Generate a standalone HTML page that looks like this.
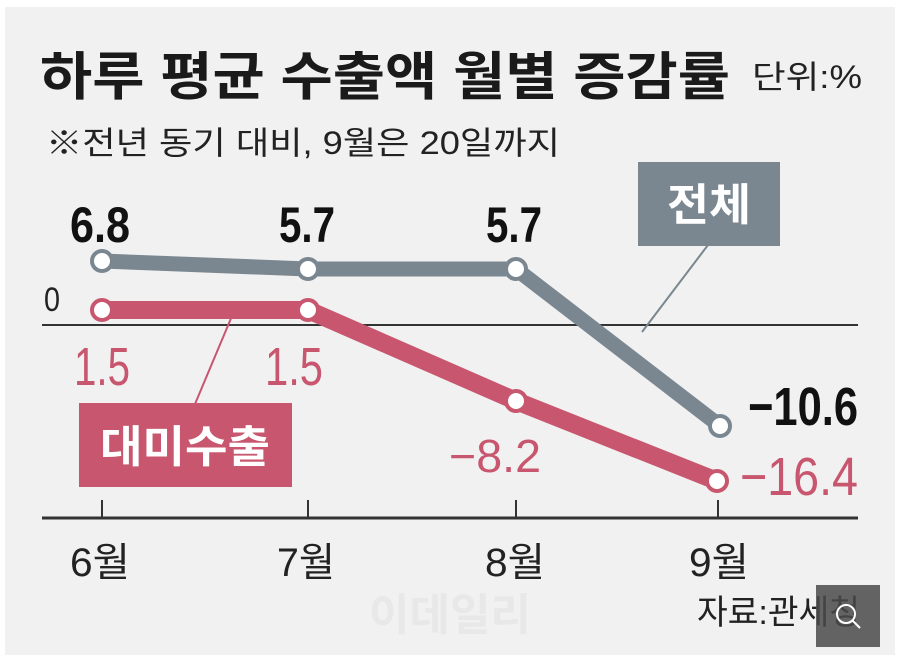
<!DOCTYPE html>
<html><head><meta charset="utf-8"><style>
body{margin:0;background:#fff;}
svg{display:block;}
text{font-family:"Liberation Sans","Noto Sans CJK KR",sans-serif;}
</style></head><body>
<svg width="900" height="660" viewBox="0 0 900 660">
<rect x="0" y="0" width="900" height="660" fill="#fff"/>
<rect x="5" y="7" width="890" height="648" fill="#f1f1f1"/>
<text x="40" y="95" font-size="52" font-weight="bold" fill="#1a1a1a" textLength="690" lengthAdjust="spacingAndGlyphs">하루 평균 수출액 월별 증감률</text>
<text x="752" y="88" font-size="32" fill="#222" textLength="110" lengthAdjust="spacingAndGlyphs">단위:%</text>
<text x="46" y="154" font-size="32" fill="#222" textLength="514" lengthAdjust="spacingAndGlyphs">※전년 동기 대비, 9월은 20일까지</text>
<line x1="42" y1="325" x2="858" y2="325" stroke="#333" stroke-width="2"/>
<line x1="42" y1="518" x2="858" y2="518" stroke="#333" stroke-width="3"/>
<g stroke="#333" stroke-width="2"><line x1="102" y1="500" x2="102" y2="518"/><line x1="308" y1="500" x2="308" y2="518"/><line x1="516" y1="500" x2="516" y2="518"/><line x1="718" y1="500" x2="718" y2="518"/></g>
<text x="44" y="311" font-size="34" fill="#222" textLength="16" lengthAdjust="spacingAndGlyphs">0</text>
<line x1="708" y1="245" x2="642" y2="332" stroke="#7a8790" stroke-width="2"/>
<rect x="638" y="162" width="142" height="84" fill="#7a8790"/>
<text x="709" y="220" font-size="44" font-weight="bold" fill="#fff" text-anchor="middle" textLength="84" lengthAdjust="spacingAndGlyphs">전체</text>
<line x1="195" y1="404" x2="232" y2="316" stroke="#c8566e" stroke-width="2"/>
<rect x="79" y="403" width="213" height="84" fill="#c8566e"/>
<text x="185" y="462" font-size="44" font-weight="bold" fill="#fff" text-anchor="middle" textLength="170" lengthAdjust="spacingAndGlyphs">대미수출</text>
<polyline points="102,261 308,269 516,269 720,426" fill="none" stroke="#7a8790" stroke-width="15" stroke-linejoin="round"/>
<polyline points="102,310 308,310 516,401 717,481" fill="none" stroke="#c8566e" stroke-width="18" stroke-linejoin="round"/>
<g fill="#fff" stroke="#7a8790" stroke-width="4"><circle cx="102" cy="261" r="10"/><circle cx="308" cy="269" r="10"/><circle cx="516" cy="269" r="10"/><circle cx="720" cy="426" r="10"/></g>
<g fill="#fff" stroke="#c8566e" stroke-width="4"><circle cx="102" cy="310" r="10"/><circle cx="308" cy="310" r="10"/><circle cx="516" cy="401" r="10"/><circle cx="717" cy="481" r="10"/></g>
<g font-size="50" font-weight="bold" fill="#111" text-anchor="middle">
<text x="100" y="242" textLength="60" lengthAdjust="spacingAndGlyphs">6.8</text><text x="307" y="242" textLength="56" lengthAdjust="spacingAndGlyphs">5.7</text><text x="514" y="242" textLength="56" lengthAdjust="spacingAndGlyphs">5.7</text>
</g>
<text x="748" y="425" font-size="54" font-weight="bold" fill="#111" textLength="110" lengthAdjust="spacingAndGlyphs">−10.6</text>
<g font-size="54" fill="#c8566e">
<text x="74" y="385" textLength="56" lengthAdjust="spacingAndGlyphs">1.5</text><text x="265" y="385" textLength="58" lengthAdjust="spacingAndGlyphs">1.5</text>
<text x="449" y="472" font-size="46" textLength="92" lengthAdjust="spacingAndGlyphs">−8.2</text>
<text x="740" y="495" textLength="118" lengthAdjust="spacingAndGlyphs">−16.4</text>
</g>
<g font-size="40" fill="#222">
<text x="70" y="576" textLength="60" lengthAdjust="spacingAndGlyphs">6월</text><text x="277" y="576" textLength="58" lengthAdjust="spacingAndGlyphs">7월</text><text x="485" y="576" textLength="60" lengthAdjust="spacingAndGlyphs">8월</text><text x="689" y="576" textLength="60" lengthAdjust="spacingAndGlyphs">9월</text>
</g>
<text x="450" y="630" font-size="44" font-weight="bold" fill="#e8e8e8" text-anchor="middle">이데일리</text>
<text x="697" y="624" font-size="34" fill="#222" textLength="163" lengthAdjust="spacingAndGlyphs">자료:관세청</text>
<rect x="816" y="585" width="64" height="62" fill="#4a4a4a" opacity="0.85"/>
<circle cx="846" cy="614" r="9" fill="none" stroke="#fff" stroke-width="2"/>
<line x1="852" y1="620" x2="860" y2="628" stroke="#fff" stroke-width="2"/>
</svg>
</body></html>
